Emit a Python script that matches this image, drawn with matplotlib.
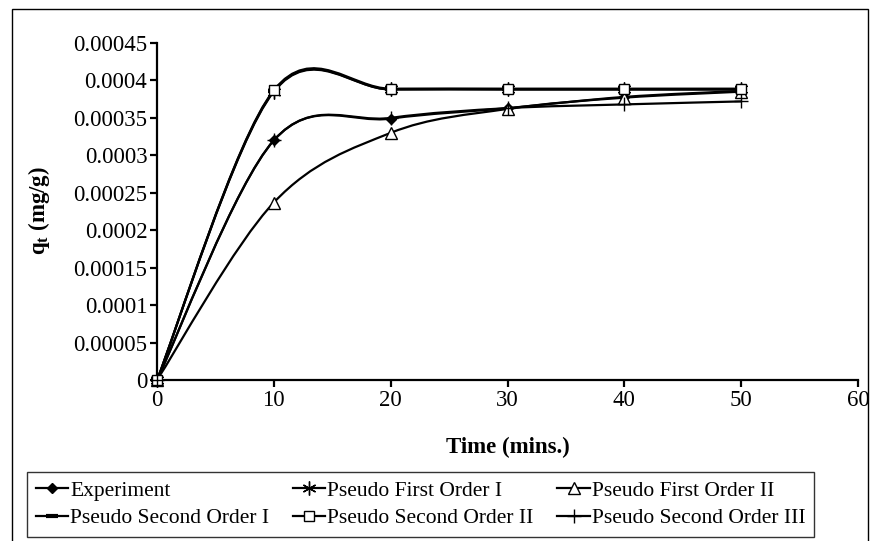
import matplotlib
matplotlib.use("Agg")
import matplotlib.pyplot as plt
from matplotlib.path import Path
from matplotlib.patches import PathPatch, Rectangle
from matplotlib.lines import Line2D
from matplotlib.ticker import FuncFormatter, MultipleLocator

plt.rcParams["font.family"] = ["Liberation Serif", "DejaVu Serif"]
plt.rcParams["mathtext.fontset"] = "custom"
plt.rcParams["mathtext.rm"] = "Liberation Serif"
plt.rcParams["mathtext.bf"] = "Liberation Serif:bold"

time_min = [0, 10, 20, 30, 40, 50]
experiment = [0, 0.000320, 0.000349, 0.000363, 0.000378, 0.000386]
pfo_1 = [0, 0.000385, 0.000388, 0.000388, 0.000388, 0.000388]
pfo_2 = [0, 0.000237, 0.000330, 0.000362, 0.000377, 0.000385]
pso_1 = [0, 0.000386, 0.000388, 0.000388, 0.000388, 0.000388]
pso_2 = [0, 0.000387, 0.000389, 0.000389, 0.000389, 0.000389]
pso_3 = [0, 0.000320, 0.000350, 0.000363, 0.000368, 0.000372]

series = [
    ("Experiment", experiment, dict(marker="D", ms=5, mfc="black", mec="black")),
    ("Pseudo First Order I", pfo_1, dict(marker=(6, 2, 0), ms=10, mec="black", mew=1.0)),
    ("Pseudo First Order II", pfo_2, dict(marker="^", ms=9, mfc="white", mec="black", mew=1.0)),
    ("Pseudo Second Order I", pso_1, dict(marker="_", ms=9, mec="black", mew=3)),
    ("Pseudo Second Order II", pso_2, dict(marker="s", ms=7, mfc="white", mec="black", mew=1.0)),
    ("Pseudo Second Order III", pso_3, dict(marker="+", ms=10, mec="black", mew=1.0)),
]


def smooth_path(xs, ys):
    # Excel-style smoothed line: Catmull-Rom turned into cubic Bezier pieces
    pts = list(zip(xs, ys))
    verts = [pts[0]]
    codes = [Path.MOVETO]
    n = len(pts)
    for i in range(n - 1):
        p0 = pts[max(i - 1, 0)]
        p1 = pts[i]
        p2 = pts[i + 1]
        p3 = pts[min(i + 2, n - 1)]
        c1 = (p1[0] + (p2[0] - p0[0]) / 6, p1[1] + (p2[1] - p0[1]) / 6)
        c2 = (p2[0] - (p3[0] - p1[0]) / 6, p2[1] - (p3[1] - p1[1]) / 6)
        verts += [c1, c2, p2]
        codes += [Path.CURVE4] * 3
    return Path(verts, codes)


fig = plt.figure(figsize=(8.75, 5.41), dpi=100)
ax = fig.add_axes([157 / 875, 1 - 380 / 541, 701 / 875, 337 / 541])

handles = []
for label, values, style in series:
    patch = PathPatch(smooth_path(time_min, values), fill=False, edgecolor="black",
                      lw=1.6, clip_on=False, zorder=2)
    ax.add_patch(patch)
    ax.plot(time_min, values, ls="none", clip_on=False, zorder=3, **style)
    handles.append(Line2D([], [], color="black", lw=1.6, label=label, **style))

ax.set_xlim(0, 60)
ax.set_ylim(0, 0.00045)
ax.xaxis.set_major_locator(MultipleLocator(10))
ax.yaxis.set_major_locator(MultipleLocator(0.00005))
ax.yaxis.set_major_formatter(FuncFormatter(
    lambda v, pos: "0" if abs(v) < 1e-12 else f"{v:.5f}".rstrip("0").rstrip(".")))

for side in ("top", "right"):
    ax.spines[side].set_visible(False)
for side in ("left", "bottom"):
    ax.spines[side].set_linewidth(1.6)
ax.tick_params(direction="out", length=5, width=1.6, labelsize=16.5, pad=2)

ax.set_xlabel("Time (mins.)", fontsize=16.5, fontweight="bold")
ax.xaxis.set_label_coords(0.5, -0.168)
ax.set_ylabel(r"$\mathbf{q_t}$ (mg/g)", fontsize=16.5, fontweight="bold")
ax.yaxis.set_label_coords(-0.150, 0.504)

# legend fills column by column, so reorder to read row by row
order = [0, 3, 1, 4, 2, 5]
leg = fig.legend(handles=[handles[i] for i in order], ncol=3, loc="upper left",
                 bbox_to_anchor=(27 / 875, 1 - 472 / 541), fontsize=15.5,
                 numpoints=1, handlelength=1.5, handletextpad=0.1,
                 columnspacing=1.1, borderpad=0.4, labelspacing=0.35,
                 borderaxespad=0, frameon=True, fancybox=False)
leg.get_frame().set_edgecolor("black")
leg.get_frame().set_linewidth(1.0)

fig.patches.append(Rectangle((12 / 875, -0.05), 856 / 875, 1.05 - 9 / 541,
                             transform=fig.transFigure, fill=False,
                             edgecolor="black", lw=1.0))

fig.savefig("out.png", dpi=100)
